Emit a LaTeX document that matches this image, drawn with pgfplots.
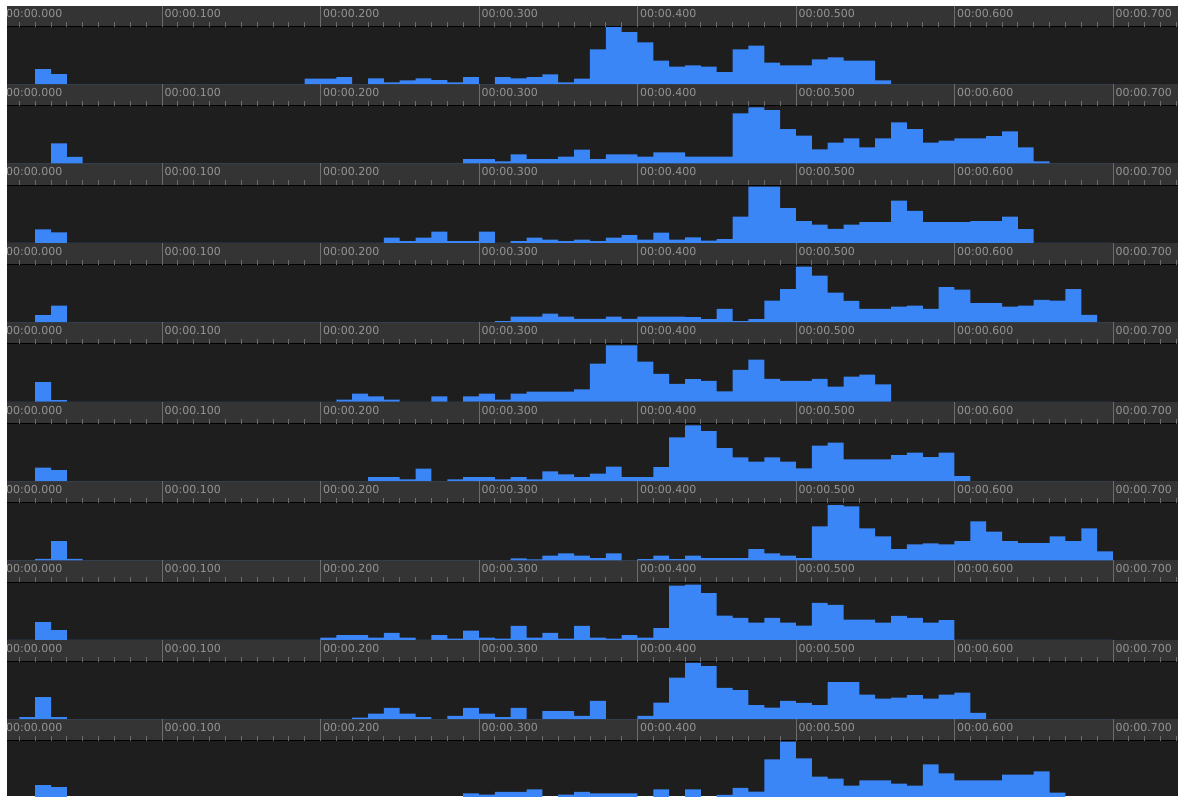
\documentclass[border=0pt]{standalone}
\usepackage{pgfplots}
\usepackage{pgfplotstable}
\pgfplotsset{compat=1.18}
\usepackage{fontspec}
\setmainfont{DejaVu Sans}

\definecolor{panel}{RGB}{30,30,30}
\definecolor{band}{RGB}{52,52,52}
\definecolor{tickgray}{RGB}{108,108,108}
\definecolor{baseline}{RGB}{84,84,84}
\definecolor{labelgray}{RGB}{148,148,148}
\definecolor{barblue}{RGB}{58,134,246}

% 10 ms bins (left edge in ms), one column per track
\pgfplotstableread{
t   r1   r2   r3   r4   r5   r6   r7   r8   r9   r10
0   0    0    0    0    0    0    0    0    0    0
10  0    0    0    0    0    0    0    0    2    0
20  15   0    13.5 7    19.5 13.5 1.5  17.8 22   13.6
30  10   20   10.4 16.5 1.5  10.8 19.2 9.8  2    11.6
40  0    6.5  0    0    0    0    1.5  0    0    0
50  0    0    0    0    0    0    0    0    0    0
60  0    0    0    0    0    0    0    0    0    0
70  0    0    0    0    0    0    0    0    0    0
80  0    0    0    0    0    0    0    0    0    0
90  0    0    0    0    0    0    0    0    0    0
100 0    0    0    0    0    0    0    0    0    0
110 0    0    0    0    0    0    0    0    0    0
120 0    0    0    0    0    0    0    0    0    0
130 0    0    0    0    0    0    0    0    0    0
140 0    0    0    0    0    0    0    0    0    0
150 0    0    0    0    0    0    0    0    0    0
160 0    0    0    0    0    0    0    0    0    0
170 0    0    0    0    0    0    0    0    0    0
180 0    0    0    0    0    0    0    0    0    0
190 5.3  0    0    0    0    0    0    0    0    0
200 5.3  0    0    0    0    0    0    2.3  0    0
210 7    0    0    0    2    0    0    4.7  0    0
220 0    0    0    0    8    0    0    4.7  1.7  0
230 5.7  0    0    0    5.3  4    0    2.3  5.7  0
240 1.7  0    5.3  0    2    4    0    7    11.3 0
250 3.7  0    1.7  0    0    1.7  0    2.3  5.7  0
260 5.7  0    5.3  0    0    12.3 0    0    2    0
270 4    0    11.3 0    5.3  0    0    4.7  0    0
280 1.7  0    1.7  0    0    1.7  0    1.3  3.3  0
290 7    4.3  1.7  0    5.3  4    0    9.3  11.3 5.3
300 0    4.3  11.3 0    8    4    0    2.3  5.7  4
310 7    2    0    1    2    1.7  0    1.3  2    6.7
320 5.7  9    1.7  5.7  8    4    2    14   11.3 6.7
330 7    4.3  5.3  5.7  10   1.7  1    2.3  0    9.3
340 9.7  4.3  3.3  8.7  10   9.7  4.7  7    8    0
350 1.7  6.7  1.7  5.7  10   6.7  7    1.3  8    4
360 5.3  13.7 3.3  3.3  12.3 4    4.7  14   3.3  6.7
370 34.7 4.3  1.7  3.3  38   7.3  2.3  2.3  18.3 5.3
380 57   9    5.3  5.7  56.3 14.3 7    1.3  0    5.3
390 52   9    7.7  3.3  56.3 4    0    4.7  0    5.3
400 41.7 6.7  3.3  5.7  40   4    1.3  2.3  3.3  0
410 23.3 11   10.3 5.7  27.7 14   4.7  11.7 16.7 9.3
420 17.3 11   3.3  5.7  17.7 43.7 1.3  54.3 41.7 0
430 18.7 6.7  5.5  5    22.5 55.7 4.7  55.3 56.3 9.3
440 17.3 6.7  2.3  3    20.7 50   2.3  46.7 53   1
450 12   6.7  3.7  13.3 10.3 33   2.3  24.3 31.3 3.7
460 34.7 50   26.3 1    31.7 23.7 2.3  22   29   10.7
470 38.3 56   56.3 3    42   19.3 11.3 17.3 14   7
480 21.3 53.3 56.3 21.7 22.7 23.7 7    22   11.7 39.3
490 18.7 34.3 34.7 33   20.7 19.3 4.7  17.3 18.3 57
500 18.7 27.7 21.7 55.7 20.7 12.7 2.3  14.3 16.3 40.3
510 24.7 14   18.3 46.7 22.7 35.3 34   37   14   22
520 26.7 20.7 14   29.7 15   38.3 55.3 35   37   20
530 23.3 25   18.3 21.3 25   21.7 54   20.3 37   13
540 23.3 16   20.7 13.3 27   21.7 32   20.3 24.7 18.3
550 3.7  25   20.7 13.3 17.3 21.7 24   17.3 20.7 18.3
560 0    41   42.3 15.7 0    26   11.3 24   21.7 15
570 0    34.3 32   16.7 0    28.3 16   22   24   13
580 0    20.7 20.7 13.3 0    24   17   17.3 20.7 34.3
590 0    22.7 20.7 35   0    28.3 16   19.7 24.7 25.3
600 0    25   20.7 32.7 0    5    19.3 0    26.7 18.3
610 0    25   21.7 19   0    0    39   0    6.3  18.3
620 0    27.3 21.7 19   0    0    28.7 0    0    18.3
630 0    32   26.3 15.7 0    0    19.3 0    0    24
640 0    16   13.7 16.7 0    0    17.3 0    0    24
650 0    2    0    22.3 0    0    17.3 0    0    27.3
660 0    0    0    21.7 0    0    24   0    0    6
670 0    0    0    33   0    0    19.3 0    0    0
680 0    0    0    7.3  0    0    32   0    0    0
690 0    0    0    0    0    0    9    0    0    0
700 0    0    0    0    0    0    0    0    0    0
}\bins

\begin{document}
\begin{tikzpicture}[x=1pt,y=1pt]
  % dark canvas
  \fill[panel] (0,0) rectangle (1178,-796);

  % time rulers above each track
  \foreach \i in {0,...,9}{
    \pgfmathsetmacro{\rt}{4.6+79.4*\i}
    \pgfmathsetmacro{\rb}{\rt+22}
    \fill[band] (0,-\rt) rectangle (1178,-\rb);
    \draw[baseline, line width=0.8pt] (0,-\rb+0.5) -- (1178,-\rb+0.5);
    \foreach \k in {1,...,74}{
      \pgfmathsetmacro{\tx}{3.5+15.85*\k}
      \draw[tickgray, line width=0.9pt] (\tx,-\rb) -- (\tx,-\rb+5);
    }
    \foreach \m in {0,...,7}{
      \pgfmathsetmacro{\mx}{3.5+158.5*\m}
      \draw[tickgray, line width=0.9pt] (\mx,-\rt) -- (\mx,-\rb);
      \node[anchor=west, inner sep=0pt, text=labelgray,
            font=\fontsize{11}{13}\selectfont]
        at (\mx+2.5,-\rt-8.5) {00:00.\m00};
    }
  }

  % histogram tracks
  \foreach \i in {1,...,10}{
    \pgfmathsetmacro{\yb}{84+79.4*(\i-1)}
    \begin{axis}[
        at={(0pt,-\yb pt)}, anchor=south west,
        width=1178pt, height=57.4pt, scale only axis,
        xmin=-2.2082, xmax=741.01, ymin=0, ymax=57.4,
        hide axis]
      \addplot[const plot mark left, fill=barblue, draw=none]
        table[x index=0, y index=\i] {\bins} \closedcycle;
    \end{axis}
  }

  % white page margin on the top and left
  \fill[white] (0,0) rectangle (7,-796);
  \fill[white] (0,0) rectangle (1178,-6);

  \pgfresetboundingbox
  \useasboundingbox (0,0) rectangle (1178,-796);
\end{tikzpicture}
\end{document}
